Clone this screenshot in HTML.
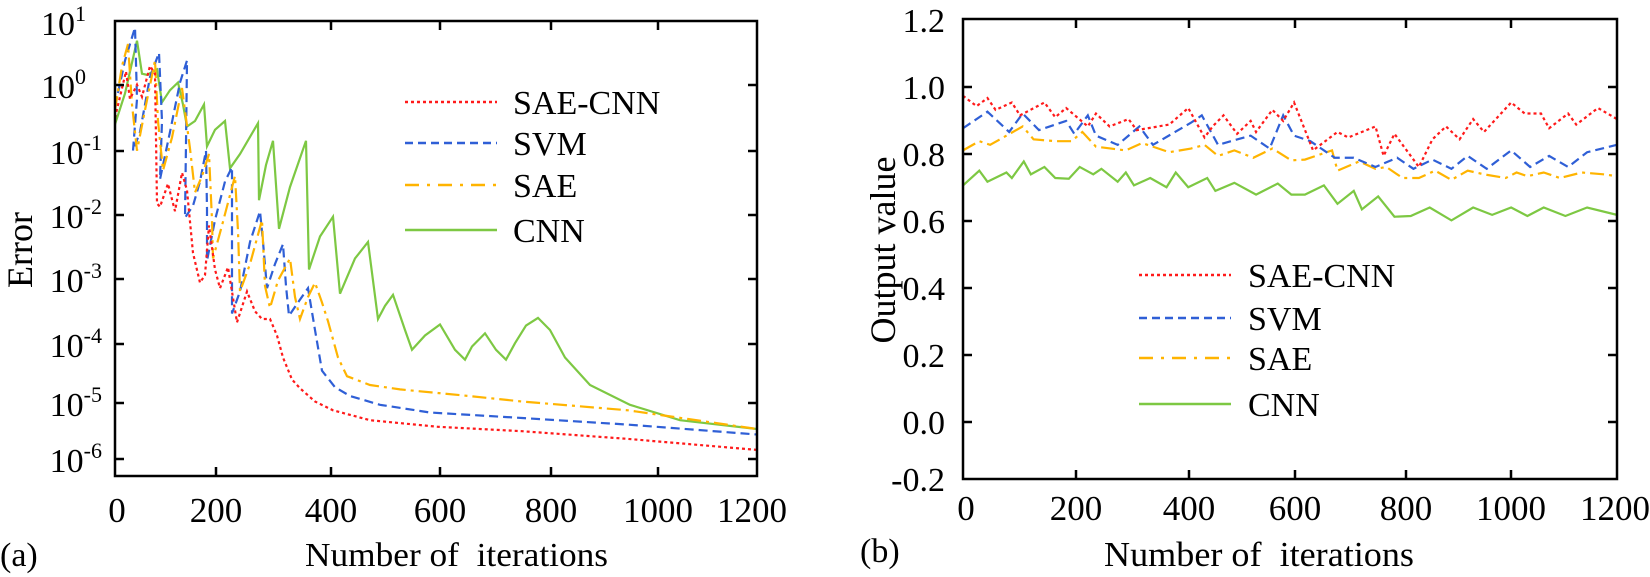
<!DOCTYPE html>
<html><head><meta charset="utf-8"><style>
html,body{margin:0;padding:0;background:#fff;}
svg{display:block;font-family:"Liberation Serif",serif;}
</style></head><body>
<svg width="1650" height="577" viewBox="0 0 1650 577" xmlns="http://www.w3.org/2000/svg">
<rect width="1650" height="577" fill="#fff"/>
<!-- LEFT PLOT -->
<g transform="matrix(1 0 0 1.1 0 0)" fill="none" stroke-width="2.2">
<polyline vector-effect="non-scaling-stroke" stroke="#7dc843" points="115,113 125,85 137,37 142,67 147,68 157,63 162,93 170,82 178,75 183,95 187,115 195,110 204,95 207,133 215,118 225,110 230,153 240,140 258,112 259,182 266,150 273,128 279,208 290,170 306,128 309,245 320,215 333,197 340,267 355,235 368,220 378,290 385,278 393,268 405,300 412,318 425,305 440,295 455,318 465,327 472,315 485,303 496,318 506,327 515,312 526,296 538,289 550,300 565,325 590,350 630,368 680,382 757,390"/>
<polyline vector-effect="non-scaling-stroke" stroke="#2f5fd6" stroke-dasharray="9,5" points="115,97 125,55 135,25 137,90 133,137 140,120 150,70 159,48 162,110 160,163 170,120 180,75 187,55 186,130 185,198 193,187 200,165 206,137 207,190 207,237 215,200 225,165 232,152 232,230 232,285 240,265 250,220 260,192 263,220 267,262 275,240 283,222 286,260 289,287 298,275 308,262 315,300 322,337 335,352 350,360 380,368 430,375 522,380 628,386 757,395"/>
<polyline vector-effect="non-scaling-stroke" stroke="#ffb400" stroke-dasharray="14,5,3,5" points="115,100 122,60 128,40 132,95 137,137 145,100 155,55 158,110 163,155 172,125 182,80 190,135 195,175 202,160 209,140 212,200 213,235 222,205 235,160 238,210 240,265 250,240 262,200 265,260 270,280 278,255 290,235 295,270 300,290 308,270 315,257 322,275 328,292 338,325 347,342 370,350 400,354 469,360 522,365 628,373 757,390"/>
<polyline vector-effect="non-scaling-stroke" stroke="#ff1a1a" stroke-dasharray="3,3" points="115,107 126,65 130,90 137,77 142,88 150,60 155,67 157,185 160,188 168,167 175,192 182,157 187,173 193,230 200,257 205,250 209,205 215,245 220,262 228,243 237,293 247,265 255,283 262,290 270,290 277,305 283,325 292,345 300,353 315,365 333,373 370,382 438,388 522,392 628,399 757,409"/>
</g>
<rect x="115" y="21" width="642" height="455" fill="none" stroke="#000" stroke-width="2.5"/>
<g stroke="#000" stroke-width="2.5">
<path d="M216,476v-9M331,476v-9M440,476v-9M551,476v-9M658,476v-9M216,21v9M331,21v9M440,21v9M551,21v9M658,21v9"/>
<path d="M115,85h9M115,151h9M115,215h9M115,279h9M115,344h9M115,403h9M115,459h9M757,85h-9M757,151h-9M757,215h-9M757,279h-9M757,344h-9M757,403h-9M757,459h-9"/>
</g>
<g font-size="35" text-anchor="middle">
<text x="117" y="522">0</text><text x="216" y="522">200</text><text x="331" y="522">400</text><text x="440" y="522">600</text><text x="551" y="522">800</text><text x="658" y="522">1000</text><text x="752" y="522">1200</text>
</g>
<g font-size="34" text-anchor="end">
<text x="86" y="35">10<tspan font-size="22" dy="-14">1</tspan></text>
<text x="86" y="98">10<tspan font-size="22" dy="-14">0</tspan></text>
<text x="102" y="164">10<tspan font-size="22" dy="-14">-1</tspan></text>
<text x="102" y="228">10<tspan font-size="22" dy="-14">-2</tspan></text>
<text x="102" y="292">10<tspan font-size="22" dy="-14">-3</tspan></text>
<text x="102" y="357">10<tspan font-size="22" dy="-14">-4</tspan></text>
<text x="102" y="416">10<tspan font-size="22" dy="-14">-5</tspan></text>
<text x="102" y="472">10<tspan font-size="22" dy="-14">-6</tspan></text>
</g>
<text font-size="36" transform="translate(32,250) rotate(-90)" text-anchor="middle">Error</text>
<text font-size="34" x="0" y="566">(a)</text>
<text font-size="34" x="305" y="566" textLength="303" lengthAdjust="spacingAndGlyphs" xml:space="preserve">Number of  iterations</text>
<g stroke-width="2.5" fill="none">
<line x1="405" y1="102" x2="497" y2="102" stroke="#ff1a1a" stroke-dasharray="3,3"/>
<line x1="405" y1="143" x2="497" y2="143" stroke="#2f5fd6" stroke-dasharray="8,5"/>
<line x1="405" y1="185" x2="497" y2="185" stroke="#ffb400" stroke-dasharray="14,8,3,8"/>
<line x1="405" y1="230" x2="497" y2="230" stroke="#7dc843"/>
</g>
<g font-size="34">
<text x="513" y="114">SAE-CNN</text><text x="513" y="155">SVM</text><text x="513" y="197">SAE</text><text x="513" y="242">CNN</text>
</g>

<!-- RIGHT PLOT -->
<g transform="matrix(0.5427 0 0 0.3685 800.2 -0.7)" fill="none" stroke-width="2.2">
<polyline vector-effect="non-scaling-stroke" stroke="#7dc843" points="300,505 330,465 345,495 380,470 390,485 412,440 425,475 450,455 470,485 495,487 515,455 540,475 555,460 585,495 600,470 615,505 645,485 675,510 692,470 715,510 750,485 765,520 800,498 840,530 880,500 905,530 930,530 965,505 990,555 1020,520 1035,570 1065,535 1095,590 1125,588 1160,565 1200,600 1240,565 1275,585 1310,565 1340,588 1370,565 1410,588 1450,565 1505,585"/>
<polyline vector-effect="non-scaling-stroke" stroke="#ffb400" stroke-dasharray="14,5,3,5" points="300,410 330,385 350,395 410,345 430,380 470,385 500,385 520,360 545,400 600,410 630,390 680,415 720,405 745,395 770,425 800,410 835,430 870,405 905,437 930,435 980,410 990,465 1030,440 1060,460 1080,455 1110,485 1140,485 1170,465 1200,490 1230,465 1260,475 1300,485 1320,470 1340,480 1370,470 1400,485 1440,470 1480,475 1505,480"/>
<polyline vector-effect="non-scaling-stroke" stroke="#2f5fd6" stroke-dasharray="9,5" points="300,350 345,305 385,360 410,310 440,355 460,345 490,330 505,365 530,315 545,370 585,395 625,345 650,395 720,335 740,315 770,395 830,370 865,405 890,315 910,370 940,385 985,430 1020,430 1060,455 1100,430 1130,460 1165,435 1200,460 1230,425 1265,460 1310,410 1345,455 1380,425 1415,455 1450,415 1505,395"/>
<polyline vector-effect="non-scaling-stroke" stroke="#ff1a1a" stroke-dasharray="3,3" points="300,262 325,290 345,268 360,300 390,280 405,315 450,280 470,320 490,295 510,320 530,345 545,310 570,345 605,325 620,355 680,340 715,295 745,375 760,345 780,315 805,365 830,330 840,360 870,300 890,330 910,280 945,410 990,360 1010,375 1060,345 1075,425 1095,365 1120,415 1140,455 1165,380 1190,345 1215,380 1240,325 1260,360 1310,280 1335,310 1365,310 1380,350 1415,310 1430,340 1470,295 1505,325"/>
</g>
<rect x="963" y="19" width="654" height="460" fill="none" stroke="#000" stroke-width="2.5"/>
<g stroke="#000" stroke-width="2.5">
<path d="M1076,479v-9M1189,479v-9M1295,479v-9M1406,479v-9M1511,479v-9M1076,19v9M1189,19v9M1295,19v9M1406,19v9M1511,19v9"/>
<path d="M963,87h9M963,154h9M963,221h9M963,288h9M963,355h9M963,422h9M1617,87h-9M1617,154h-9M1617,221h-9M1617,288h-9M1617,355h-9M1617,422h-9"/>
</g>
<g font-size="35" text-anchor="middle">
<text x="966" y="520">0</text><text x="1076" y="520">200</text><text x="1189" y="520">400</text><text x="1295" y="520">600</text><text x="1406" y="520">800</text><text x="1511" y="520">1000</text><text x="1615" y="520">1200</text>
</g>
<g font-size="34" text-anchor="end">
<text x="945" y="32">1.2</text><text x="945" y="99">1.0</text><text x="945" y="166">0.8</text><text x="945" y="233">0.6</text><text x="945" y="300">0.4</text><text x="945" y="367">0.2</text><text x="945" y="434">0.0</text><text x="945" y="491">-0.2</text>
</g>
<text font-size="36" transform="translate(895,250) rotate(-90)" text-anchor="middle">Output value</text>
<text font-size="34" x="860" y="562">(b)</text>
<text font-size="35" x="1259" y="566" text-anchor="middle" textLength="310" lengthAdjust="spacingAndGlyphs" xml:space="preserve">Number of  iterations</text>
<g stroke-width="2.5" fill="none">
<line x1="1139" y1="275" x2="1231" y2="275" stroke="#ff1a1a" stroke-dasharray="3,3"/>
<line x1="1139" y1="318" x2="1231" y2="318" stroke="#2f5fd6" stroke-dasharray="8,5"/>
<line x1="1139" y1="358" x2="1231" y2="358" stroke="#ffb400" stroke-dasharray="14,8,3,8"/>
<line x1="1139" y1="404" x2="1231" y2="404" stroke="#7dc843"/>
</g>
<g font-size="34">
<text x="1248" y="287">SAE-CNN</text><text x="1248" y="330">SVM</text><text x="1248" y="370">SAE</text><text x="1248" y="416">CNN</text>
</g>
</svg>
</body></html>
